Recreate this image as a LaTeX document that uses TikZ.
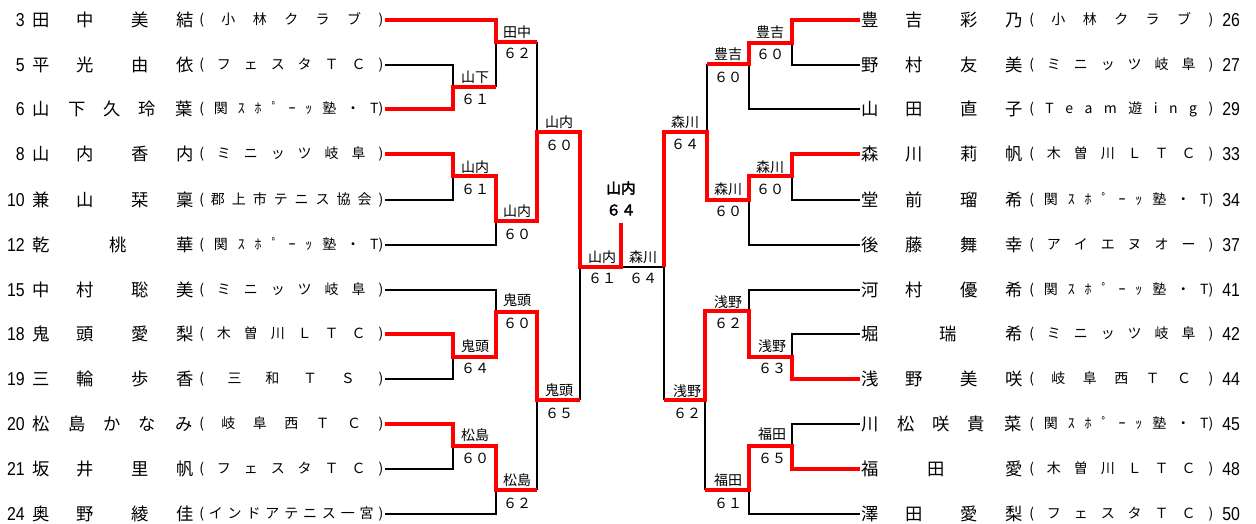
\documentclass[tikz,border=0pt]{standalone}
\usepackage{fontspec}
\setmainfont{Noto Sans CJK JP}
\newfontfamily\numfont[FakeStretch=0.85]{Liberation Sans}
\newfontfamily\boldjp[FakeBold=2.5]{Noto Sans CJK JP}
\newdimen\pxu \pxu=0.75pt
\newcommand\NmA[4]{\hbox{\rlap{#1}\kern44\pxu\rlap{#2}\kern55\pxu\rlap{#3}\kern45\pxu #4}}
\newcommand\NmB[5]{\hbox{\rlap{#1}\kern36\pxu\rlap{#2}\kern35\pxu\rlap{#3}\kern35\pxu\rlap{#4}\kern37\pxu #5}}
\newcommand\NmC[5]{\hbox{\rlap{#1}\kern#2\pxu\rlap{#3}\kern#4\pxu #5}}
\def\Spread#1{#1\SpreadNext}
\def\SpreadNext#1{\ifx\relax#1\else\hfill#1\expandafter\SpreadNext\fi}
\newcommand\Tp{T)}
\newcommand\Club[1]{\hbox to 184\pxu{\Spread#1\relax}}
\begin{document}
\begin{tikzpicture}[x=0.75pt,y=-0.75pt,
  blk/.style={line width=1.5pt,black},
  win/.style={line width=2.8pt,red},
  nm/.style={anchor=west,inner sep=0pt,font=\fontsize{13}{13}\selectfont},
  cl/.style={anchor=west,inner sep=0pt,font=\fontsize{10.5}{11}\selectfont},
  numL/.style={anchor=east,inner sep=0pt,font=\numfont\fontsize{14}{14}\selectfont},
  numR/.style={anchor=west,inner sep=0pt,font=\numfont\fontsize{14}{14}\selectfont},
  lab/.style={inner sep=0pt,font=\fontsize{10.5}{11}\selectfont},
  champ/.style={inner sep=0pt,font=\boldjp\fontsize{11}{12}\selectfont}]
\useasboundingbox (0,0) rectangle (1256,524);
% left players
\node[numL] (nl1) at (25,20) {3};
\node[nm] (pl1) at (32,20) {\NmA{田}{中}{美}{結}};
\node[cl] (cl1) at (199,20) {\Club{(小林クラブ)}};
\node[numL] (nl2) at (25,65) {5};
\node[nm] (pl2) at (32,65) {\NmA{平}{光}{由}{依}};
\node[cl] (cl2) at (199,65) {\Club{(フェスタＴＣ)}};
\node[numL] (nl3) at (25,109) {6};
\node[nm] (pl3) at (32,109) {\NmB{山}{下}{久}{玲}{葉}};
\node[cl] (cl3) at (199,109) {\Club{(関ｽﾎﾟｰｯ塾・\Tp}};
\node[numL] (nl4) at (25,154) {8};
\node[nm] (pl4) at (32,154) {\NmA{山}{内}{香}{内}};
\node[cl] (cl4) at (199,154) {\Club{(ミニッツ岐阜)}};
\node[numL] (nl5) at (25,200) {10};
\node[nm] (pl5) at (32,200) {\NmA{兼}{山}{栞}{稟}};
\node[cl] (cl5) at (199,200) {\Club{(郡上市テニス協会)}};
\node[numL] (nl6) at (25,245) {12};
\node[nm] (pl6) at (32,245) {\NmC{乾}{77}{桃}{67}{華}};
\node[cl] (cl6) at (199,245) {\Club{(関ｽﾎﾟｰｯ塾・\Tp}};
\node[numL] (nl7) at (25,290) {15};
\node[nm] (pl7) at (32,290) {\NmA{中}{村}{聡}{美}};
\node[cl] (cl7) at (199,290) {\Club{(ミニッツ岐阜)}};
\node[numL] (nl8) at (25,334) {18};
\node[nm] (pl8) at (32,334) {\NmA{鬼}{頭}{愛}{梨}};
\node[cl] (cl8) at (199,334) {\Club{(木曽川ＬＴＣ)}};
\node[numL] (nl9) at (25,379) {19};
\node[nm] (pl9) at (32,379) {\NmA{三}{輪}{歩}{香}};
\node[cl] (cl9) at (199,379) {\Club{(三和ＴＳ)}};
\node[numL] (nl10) at (25,424) {20};
\node[nm] (pl10) at (32,424) {\NmB{松}{島}{か}{な}{み}};
\node[cl] (cl10) at (199,424) {\Club{(岐阜西ＴＣ)}};
\node[numL] (nl11) at (25,469) {21};
\node[nm] (pl11) at (32,469) {\NmA{坂}{井}{里}{帆}};
\node[cl] (cl11) at (199,469) {\Club{(フェスタＴＣ)}};
\node[numL] (nl12) at (25,514) {24};
\node[nm] (pl12) at (32,514) {\NmA{奥}{野}{綾}{佳}};
\node[cl] (cl12) at (199,514) {\Club{(インドアテニス一宮)}};
% right players
\node[nm] (pr1) at (861,20) {\NmA{豊}{吉}{彩}{乃}};
\node[cl] (cr1) at (1029,20) {\Club{(小林クラブ)}};
\node[numR] (nr1) at (1222,20) {26};
\node[nm] (pr2) at (861,65) {\NmA{野}{村}{友}{美}};
\node[cl] (cr2) at (1029,65) {\Club{(ミニッツ岐阜)}};
\node[numR] (nr2) at (1222,65) {27};
\node[nm] (pr3) at (861,109) {\NmA{山}{田}{直}{子}};
\node[cl] (cr3) at (1029,109) {\Club{(Team遊ing)}};
\node[numR] (nr3) at (1222,109) {29};
\node[nm] (pr4) at (861,154) {\NmA{森}{川}{莉}{帆}};
\node[cl] (cr4) at (1029,154) {\Club{(木曽川ＬＴＣ)}};
\node[numR] (nr4) at (1222,154) {33};
\node[nm] (pr5) at (861,200) {\NmA{堂}{前}{瑠}{希}};
\node[cl] (cr5) at (1029,200) {\Club{(関ｽﾎﾟｰｯ塾・\Tp}};
\node[numR] (nr5) at (1222,200) {34};
\node[nm] (pr6) at (861,245) {\NmA{後}{藤}{舞}{幸}};
\node[cl] (cr6) at (1029,245) {\Club{(アイエヌオー)}};
\node[numR] (nr6) at (1222,245) {37};
\node[nm] (pr7) at (861,290) {\NmA{河}{村}{優}{希}};
\node[cl] (cr7) at (1029,290) {\Club{(関ｽﾎﾟｰｯ塾・\Tp}};
\node[numR] (nr7) at (1222,290) {41};
\node[nm] (pr8) at (861,334) {\NmC{堀}{78}{瑞}{66}{希}};
\node[cl] (cr8) at (1029,334) {\Club{(ミニッツ岐阜)}};
\node[numR] (nr8) at (1222,334) {42};
\node[nm] (pr9) at (861,379) {\NmA{浅}{野}{美}{咲}};
\node[cl] (cr9) at (1029,379) {\Club{(岐阜西ＴＣ)}};
\node[numR] (nr9) at (1222,379) {44};
\node[nm] (pr10) at (861,424) {\NmB{川}{松}{咲}{貴}{菜}};
\node[cl] (cr10) at (1029,424) {\Club{(関ｽﾎﾟｰｯ塾・\Tp}};
\node[numR] (nr10) at (1222,424) {45};
\node[nm] (pr11) at (861,469) {\NmC{福}{66}{田}{78}{愛}};
\node[cl] (cr11) at (1029,469) {\Club{(木曽川ＬＴＣ)}};
\node[numR] (nr11) at (1222,469) {48};
\node[nm] (pr12) at (861,514) {\NmA{澤}{田}{愛}{梨}};
\node[cl] (cr12) at (1029,514) {\Club{(フェスタＴＣ)}};
\node[numR] (nr12) at (1222,514) {50};
% line start coordinates
\coordinate (L1) at (385,20); \coordinate (L2) at (385,65); \coordinate (L3) at (385,109);
\coordinate (L4) at (385,154); \coordinate (L5) at (385,200); \coordinate (L6) at (385,245);
\coordinate (L7) at (385,290); \coordinate (L8) at (385,334); \coordinate (L9) at (385,379);
\coordinate (L10) at (385,424); \coordinate (L11) at (385,469); \coordinate (L12) at (385,514);
\coordinate (R1) at (860,20); \coordinate (R2) at (860,65); \coordinate (R3) at (860,109);
\coordinate (R4) at (860,154); \coordinate (R5) at (860,200); \coordinate (R6) at (860,245);
\coordinate (R7) at (860,290); \coordinate (R8) at (860,334); \coordinate (R9) at (860,379);
\coordinate (R10) at (860,424); \coordinate (R11) at (860,469); \coordinate (R12) at (860,514);
% black lines
\draw[blk] (L2) -- (453,65) -- (453,87);
\draw[blk] (496,87) -- (496,42);
\draw[blk] (537,42) -- (537,132);
\draw[blk] (L5) -- (453,200) -- (453,176);
\draw[blk] (L6) -- (496,245) -- (496,221);
\draw[blk] (L7) -- (496,290) -- (496,312);
\draw[blk] (L9) -- (453,379) -- (453,357);
\draw[blk] (L11) -- (453,469) -- (453,446);
\draw[blk] (L12) -- (496,514) -- (496,490);
\draw[blk] (537,490) -- (537,400);
\draw[blk] (580,400) -- (580,267);
\draw[blk] (621,267) -- (664,267);
\draw[blk] (R2) -- (792,65) -- (792,43);
\draw[blk] (R3) -- (749,109) -- (749,64);
\draw[blk] (707,64) -- (707,132);
\draw[blk] (R5) -- (792,200) -- (792,176);
\draw[blk] (R6) -- (749,245) -- (749,200);
\draw[blk] (664,267) -- (664,400);
\draw[blk] (R7) -- (749,290) -- (749,311);
\draw[blk] (R8) -- (792,334) -- (792,357);
\draw[blk] (R10) -- (792,424) -- (792,446);
\draw[blk] (R12) -- (749,514) -- (749,490);
\draw[blk] (705,490) -- (705,400);
% winners
\draw[win] (L1) -- (496,20) -- (496,42) -- (537,42);
\draw[win] (L3) -- (453,109) -- (453,87) -- (496,87);
\draw[win] (L4) -- (453,154) -- (453,176) -- (496,176) -- (496,221) -- (537,221) -- (537,132) -- (580,132) -- (580,267) -- (621,267) -- (621,223);
\draw[win] (L8) -- (453,334) -- (453,357) -- (496,357) -- (496,312) -- (537,312) -- (537,400) -- (580,400);
\draw[win] (L10) -- (453,424) -- (453,446) -- (496,446) -- (496,490) -- (537,490);
\draw[win] (R1) -- (792,20) -- (792,43) -- (749,43) -- (749,64) -- (707,64);
\draw[win] (R4) -- (792,154) -- (792,176) -- (749,176) -- (749,200) -- (707,200) -- (707,132) -- (664,132) -- (664,267);
\draw[win] (R9) -- (792,379) -- (792,357) -- (749,357) -- (749,311) -- (705,311) -- (705,400) -- (664,400);
\draw[win] (R11) -- (792,469) -- (792,446) -- (749,446) -- (749,490) -- (705,490);
% labels left
\node[lab] (a1) at (475,77) {山下}; \node[lab] (s1) at (475,99) {６１};
\node[lab] (a2) at (517,32) {田中}; \node[lab] (s2) at (517,53) {６２};
\node[lab] (a3) at (475,167) {山内}; \node[lab] (s3) at (475,189) {６１};
\node[lab] (a4) at (517,211) {山内}; \node[lab] (s4) at (517,234) {６０};
\node[lab] (a5) at (559,122) {山内}; \node[lab] (s5) at (559,145) {６０};
\node[lab] (a6) at (475,346) {鬼頭}; \node[lab] (s6) at (475,368) {６４};
\node[lab] (a7) at (517,300) {鬼頭}; \node[lab] (s7) at (517,323) {６０};
\node[lab] (a8) at (475,435) {松島}; \node[lab] (s8) at (475,458) {６０};
\node[lab] (a9) at (517,480) {松島}; \node[lab] (s9) at (517,503) {６２};
\node[lab] (a10) at (559,390) {鬼頭}; \node[lab] (s10) at (559,413) {６５};
\node[lab] (a11) at (602,257) {山内}; \node[lab] (s11) at (602,278) {６１};
% champion
\node[champ] (ch) at (621,188) {山内}; \node[champ] (chs) at (621,210) {６４};
% labels right
\node[lab] (b1) at (643,257) {森川}; \node[lab] (t1) at (643,278) {６４};
\node[lab] (b2) at (770,32) {豊吉}; \node[lab] (t2) at (770,54) {６０};
\node[lab] (b3) at (728,54) {豊吉}; \node[lab] (t3) at (728,77) {６０};
\node[lab] (b4) at (770,167) {森川}; \node[lab] (t4) at (770,189) {６０};
\node[lab] (b5) at (728,189) {森川}; \node[lab] (t5) at (728,211) {６０};
\node[lab] (b6) at (685,122) {森川}; \node[lab] (t6) at (685,144) {６４};
\node[lab] (b7) at (728,302) {浅野}; \node[lab] (t7) at (728,323) {６２};
\node[lab] (b8) at (772,346) {浅野}; \node[lab] (t8) at (772,368) {６３};
\node[lab] (b9) at (687,391) {浅野}; \node[lab] (t9) at (687,413) {６２};
\node[lab] (b10) at (772,434) {福田}; \node[lab] (t10) at (772,458) {６５};
\node[lab] (b11) at (728,480) {福田}; \node[lab] (t11) at (728,503) {６１};
\end{tikzpicture}
\end{document}
